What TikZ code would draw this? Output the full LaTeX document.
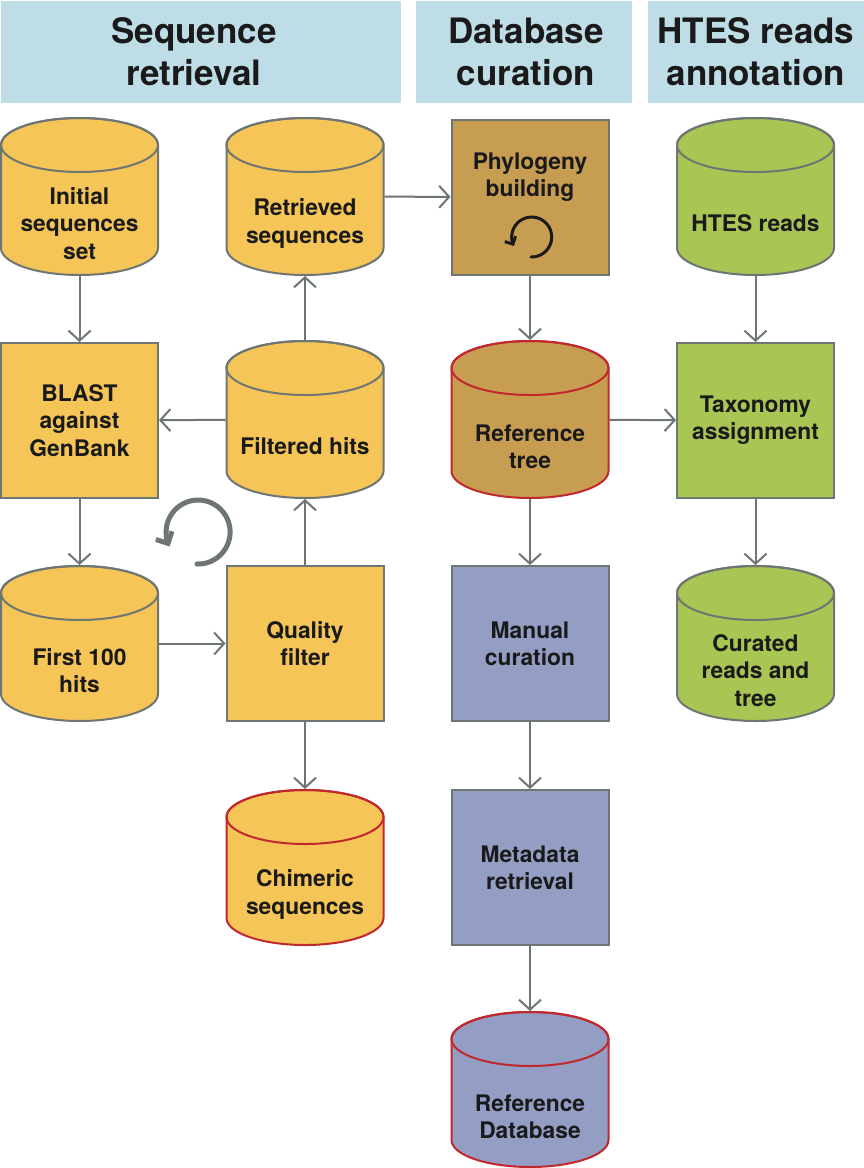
\documentclass[tikz,border=0pt]{standalone}
\usepackage{fontspec}
\setmainfont{TeX Gyre Heros}
\usetikzlibrary{arrows.meta}
\definecolor{hdr}{HTML}{BFDDE6}
\definecolor{yel}{HTML}{F5C557}
\definecolor{gold}{HTML}{C79D52}
\definecolor{lav}{HTML}{949DC4}
\definecolor{grn}{HTML}{A9C554}
\definecolor{edge}{HTML}{6E7674}
\definecolor{redge}{HTML}{C0282E}
\definecolor{txtc}{HTML}{1A1A1A}
\tikzset{
  hdrbox/.style={fill=hdr, draw=none},
  hdrtxt/.style={font=\fontsize{35}{42}\selectfont\bfseries, text=txtc, align=center, inner sep=0pt},
  lbl/.style={font=\fontsize{22.8}{27.3}\selectfont\bfseries, text=txtc, align=center, inner sep=0pt},
  procbox/.style={draw=edge, line width=2pt, minimum width=157pt, minimum height=155pt, inner sep=0pt, outer sep=1pt},
  anchorbox/.style={draw=none, fill=none, minimum width=157pt, inner sep=0pt, outer sep=1pt},
  conn/.style={draw=edge, line width=2pt, -{Straight Barb[length=10pt,width=22pt,line width=2pt]}},
  loop/.style={line width=5pt, line cap=round, -{Straight Barb[length=9pt,width=18pt,line width=5pt]}},
}
% cylinder: name, centre x, top y, bottom y, fill, edge colour, text
\newcommand\mycyl[7]{%
  \pgfmathsetmacro\cyt{#3+27}%
  \pgfmathsetmacro\cyb{#4-27}%
  \pgfmathsetmacro\cyl{#2-78.5}%
  \pgfmathsetmacro\cyr{#2+78.5}%
  \pgfmathsetmacro\cym{(#3+#4)/2}%
  \pgfmathsetmacro\cyh{#4-#3}%
  \pgfmathsetmacro\cytx{(#3+54+#4)/2}%
  \filldraw[fill=#5, draw=#6, line width=2pt]
    (\cyl,\cyt) -- (\cyl,\cyb) arc[start angle=180, end angle=0, x radius=78.5, y radius=27]
    -- (\cyr,\cyt) arc[start angle=0, end angle=-180, x radius=78.5, y radius=27] -- cycle;
  \draw[draw=#6, line width=2pt] (#2,\cyt) ellipse[x radius=78.5, y radius=27];
  \node[anchorbox, minimum height=\cyh pt] (#1) at (#2,\cym) {};
  \node[lbl] (#1-t) at (#2,\cytx) {#7};
}
\begin{document}
\begin{tikzpicture}[x=1pt,y=-1pt]
\useasboundingbox (0,0) rectangle (864,1168);
\fill[white] (0,0) rectangle (864,1168);
% headers
\fill[hdrbox] (1,1) rectangle (401,103);
\fill[hdrbox] (416,1) rectangle (632,103);
\fill[hdrbox] (648,1) rectangle (864,103);
\node[hdrtxt] (h1) at (194,52) {Sequence\\retrieval};
\node[hdrtxt] (h2) at (526,52) {Database\\curation};
\node[hdrtxt] (h3) at (756,52) {HTES reads\\annotation};
% column 1
\mycyl{init}{79.5}{118}{275}{yel}{edge}{Initial\\sequences\\set}
\node[procbox, fill=yel] (blast) at (79.5,420.5) {};
\node[lbl] at (blast) {BLAST\\against\\GenBank};
\mycyl{first}{79.5}{566}{721}{yel}{edge}{First 100\\hits}
% column 2
\mycyl{retr}{305}{118}{275}{yel}{edge}{Retrieved\\sequences}
\mycyl{filt}{305}{341}{498}{yel}{edge}{Filtered hits}
\node[procbox, fill=yel] (qual) at (305,643.5) {};
\node[lbl] at (qual) {Quality\\filter};
\mycyl{chim}{305}{790}{945}{yel}{redge}{Chimeric\\sequences}
% column 3
\node[procbox, fill=gold] (phyl) at (530,197) {};
\node[lbl] at (530,177) {Phylogeny\\building};
\mycyl{rtree}{530}{341}{498}{gold}{redge}{Reference\\tree}
\node[procbox, fill=lav] (manu) at (530,643.5) {};
\node[lbl] at (manu) {Manual\\curation};
\node[procbox, fill=lav] (meta) at (530,867.5) {};
\node[lbl] at (meta) {Metadata\\retrieval};
\mycyl{rdb}{530}{1012}{1167}{lav}{redge}{Reference\\Database}
% column 4
\mycyl{htes}{755.5}{118}{275}{grn}{edge}{HTES reads}
\node[procbox, fill=grn] (taxo) at (755.5,420.5) {};
\node[lbl] at (taxo) {Taxonomy\\assignment};
\mycyl{cur}{755.5}{566}{721}{grn}{edge}{Curated\\reads and\\tree}
% connectors
\draw[conn] (init) -- (blast);
\draw[conn] (blast) -- (first);
\draw[conn] (first) -- (qual);
\draw[conn] (qual) -- (filt);
\draw[conn] (filt) -- (blast);
\draw[conn] (filt) -- (retr);
\draw[conn] (qual) -- (chim);
\draw[conn] (retr) -- (phyl);
\draw[conn] (phyl) -- (rtree);
\draw[conn] (rtree) -- (taxo);
\draw[conn] (rtree) -- (manu);
\draw[conn] (manu) -- (meta);
\draw[conn] (meta) -- (rdb);
\draw[conn] (htes) -- (taxo);
\draw[conn] (taxo) -- (cur);
% loop arrows
\coordinate (loopA) at (197,564);
\draw[loop, draw=edge] (loopA) arc[start angle=92, end angle=-207, radius=32];
\coordinate (loopB) at (531,257);
\draw[line width=3pt, line cap=round, draw=txtc, -{Straight Barb[length=6pt,width=12pt,line width=3pt]}] (loopB) arc[start angle=92, end angle=-207, radius=20];
\end{tikzpicture}
\end{document}
